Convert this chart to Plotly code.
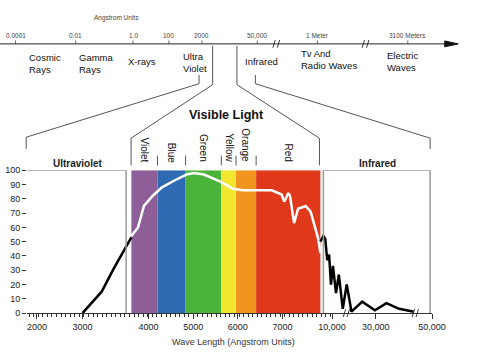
import numpy as np
import plotly.graph_objects as go

W, H = 482, 357
FONT = "Liberation Sans, Arial, Helvetica, sans-serif"

# ---------------- data ----------------
top_scale_labels = ["0.0001", "0.01", "1.0", "100", "2000", "50,000", "1 Meter", "3100 Meters"]
spectrum_regions = ["Cosmic<br>Rays", "Gamma<br>Rays", "X-rays", "Ultra<br>Violet",
                    "Infrared", "Tv And<br>Radio Waves", "Electric<br>Waves"]

band_names = ["Violet", "Blue", "Green", "Yellow", "Orange", "Red"]
band_edges = [3740, 4200, 4830, 5630, 5960, 6410, 7850]          # Angstrom
band_colors = ["#8D5E98", "#2F6BB3", "#4BB33A", "#F2E72E", "#F2951F", "#E0381B"]

uv_region = [1800, 3660]
ir_region = [8400, 49300]

uv_wavelength = [3000, 3290, 3470, 3630, 3740]
uv_percent = [0, 15, 31, 44, 53]

vis_wavelength = [3740, 3840, 3870, 3930, 4090, 4300, 4590, 4850, 5020, 5240, 5610, 5890,
                  6110, 6760, 6980, 7040, 7130, 7170, 7260, 7350, 7520, 7630, 7740, 7800, 7850]
vis_percent = [54, 60, 65, 75, 82, 88, 93, 97, 98, 97, 92, 87,
               86, 86, 83, 78, 84, 82, 63, 73, 75, 71, 59, 52, 42]

ir_wavelength = [7850, 8390, 8750, 9100, 9450, 9800, 10400, 11800, 13100, 14900, 16700,
                 18900, 23800, 29600, 33800, 38300, 43500]
ir_percent = [50, 54, 52, 37, 41, 20, 33, 14, 27, 3, 20, 1, 8, 2, 7, 3, 1]

x_tick_values = [2000, 3000, 4000, 5000, 6000, 7000, 10000, 30000, 50000]
x_tick_labels = ["2000", "3000", "4000", "5000", "6000", "7000", "10,000", "30,000", "50,000"]
y_tick_values = list(range(0, 101, 10))

# ------------- broken (piecewise) wavelength scale of the lower chart -------------
scale_wl = [1800, 2000, 3000, 4000, 7850, 10000, 30000, 50000]
scale_u = [28, 38, 85, 153, 330, 342, 387, 445]


def to_axis(wl):
    return np.interp(wl, scale_wl, scale_u)


# page helpers for decoration (pixel -> paper)
def X(p):
    return p / W


def Y(p):
    return 1 - p / H


shapes = []
annotations = []


def pline(pts, color="#555", width=1):
    path = "M " + " L ".join(f"{X(a):.5f},{Y(b):.5f}" for a, b in pts)
    shapes.append(dict(type="path", xref="paper", yref="paper", path=path,
                       line=dict(color=color, width=width)))


def text(x, y, s, size=9, color="#222", xanchor="center", yanchor="middle",
         align="center", bold=False, angle=0, xref="paper"):
    annotations.append(dict(x=(x if xref != "paper" else X(x)), y=Y(y), xref=xref, yref="paper",
                            text=(f"<b>{s}</b>" if bold else s), showarrow=False,
                            xanchor=xanchor, yanchor=yanchor, align=align, textangle=angle,
                            font=dict(family=FONT, size=size, color=color)))


fig = go.Figure()

# color bands
for name, c, a, b in zip(band_names, band_colors, band_edges[:-1], band_edges[1:]):
    shapes.append(dict(type="rect", xref="x", yref="y", x0=to_axis(a), x1=to_axis(b),
                       y0=0, y1=100, fillcolor=c, line=dict(width=0), layer="below"))

# UV and IR boxes
ux0, ux1 = to_axis(uv_region)
shapes.append(dict(type="path", xref="x", yref="y",
                   path=f"M {ux0},100 L {ux1},100 L {ux1},0", line=dict(color="#9a9a9a", width=1.5)))
ix0, ix1 = to_axis(ir_region)
shapes.append(dict(type="path", xref="x", yref="y",
                   path=f"M {ix0},0 L {ix0},100 L {ix1},100 L {ix1},0",
                   line=dict(color="#9a9a9a", width=1.5)))

# curves
fig.add_trace(go.Scatter(x=to_axis(uv_wavelength), y=uv_percent, mode="lines",
                         line=dict(color="black", width=2.5), hoverinfo="skip"))
fig.add_trace(go.Scatter(x=to_axis(vis_wavelength), y=vis_percent, mode="lines",
                         line=dict(color="white", width=2.5), hoverinfo="skip"))
fig.add_trace(go.Scatter(x=to_axis(ir_wavelength), y=ir_percent, mode="lines",
                         line=dict(color="black", width=2.5), hoverinfo="skip"))

# -------- top spectrum scale --------
top_x = [16, 78, 137, 174, 208, 265, 327, 420]
pline([(0, 40), (462, 40)], color="#222", width=1)
shapes.append(dict(type="path", xref="paper", yref="paper",
                   path=f"M {X(458)},{Y(37)} L {X(472)},{Y(40)} L {X(458)},{Y(43)} Z",
                   fillcolor="#111", line=dict(color="#111", width=1)))
for tx, lab in zip(top_x, top_scale_labels):
    pline([(tx, 36.5), (tx, 40)], color="#444", width=0.8)
    text(tx, 31, lab, size=6.5, color="#444")
text(120, 13, "Angstrom Units", size=6.5, color="#444")
for bx in [285, 377]:
    pline([(bx - 4, 44), (bx - 1.5, 36)], color="#222", width=0.9)
    pline([(bx + 0.5, 44), (bx + 3, 36)], color="#222", width=0.9)

region_x = [28, 79, 130, 186, 250, 308, 397]
region_y = [60, 60, 58, 59, 58, 56, 58]
for rx, ry, lab in zip(region_x, region_y, spectrum_regions):
    text(rx, ry, lab, size=9.5, color="#111", xanchor="left", align="left")

# pointer / bracket lines
pline([(205, 72), (205, 81), (27, 136), (27, 148)])
pline([(263, 72), (263, 81), (443, 137), (443, 148)])
pline([(219, 42), (219, 82), (135, 137), (135, 165)])
pline([(244, 42), (244, 82), (329, 137), (329, 165)])

text(233, 113, "Visible Light", size=12.5, color="#111", bold=True)
text(80, 163, "Ultraviolet", size=10, color="#222", bold=True)
text(389, 163, "Infrared", size=10, color="#222", bold=True)

# band labels and separators
for i, (name, a, b) in enumerate(zip(band_names, band_edges[:-1], band_edges[1:])):
    cx = (to_axis(a) + to_axis(b)) / 2
    if name == "Red":
        annotations.append(dict(x=cx, y=Y(152), xref="x", yref="paper", text=name,
                                showarrow=False, textangle=90, xanchor="center", yanchor="middle",
                                font=dict(family=FONT, size=10, color="#111")))
    else:
        annotations.append(dict(x=cx, y=Y(164), xref="x", yref="paper", text=name,
                                showarrow=False, textangle=90, xanchor="center", yanchor="bottom",
                                font=dict(family=FONT, size=10, color="#111")))
for e in band_edges[1:-1]:
    ex = to_axis(e)
    shapes.append(dict(type="line", xref="x", yref="paper", x0=ex, x1=ex, y0=Y(155), y1=Y(165),
                       line=dict(color="#555", width=1)))

# bottom axis breaks
for bx in [357, 428]:
    shapes.append(dict(type="line", xref="x", yref="paper", x0=bx - 3.5, x1=bx - 1, y0=Y(321), y1=Y(313),
                       line=dict(color="#222", width=0.9)))
    shapes.append(dict(type="line", xref="x", yref="paper", x0=bx + 0.5, x1=bx + 3, y0=Y(321), y1=Y(313),
                       line=dict(color="#222", width=0.9)))

text(240, 347, "Wave Length (Angstrom Units)", size=9, color="#333")

minor_vals = list(np.arange(30, 341, 4.7))

fig.update_layout(
    width=W, height=H, margin=dict(l=0, r=0, t=0, b=0, pad=0),
    paper_bgcolor="white", plot_bgcolor="rgba(0,0,0,0)", showlegend=False,
    shapes=shapes, annotations=annotations,
    xaxis=dict(domain=[X(28), X(445)], range=[28, 445], showgrid=False, zeroline=False,
               showline=True, linecolor="#333", linewidth=1,
               tickmode="array", tickvals=list(to_axis(x_tick_values)), ticktext=x_tick_labels,
               ticks="outside", ticklen=5, tickcolor="#333", tickwidth=1,
               tickfont=dict(family=FONT, size=9, color="#222"),
               minor=dict(tickmode="array", tickvals=minor_vals, ticks="outside", ticklen=3,
                          tickcolor="#333", tickwidth=1, showgrid=False),
               fixedrange=True),
    yaxis=dict(domain=[Y(317), Y(170)], range=[0, 100], showgrid=False, zeroline=False,
               showline=False, tickmode="array", tickvals=y_tick_values,
               ticks="outside", ticklen=4, tickcolor="#333", tickwidth=1,
               tickfont=dict(family=FONT, size=9, color="#222"), fixedrange=True),
)

fig.write_html("out.html", config=dict(displayModeBar=False),
               post_script="document.body.style.margin='0';document.body.style.overflow='hidden';")
